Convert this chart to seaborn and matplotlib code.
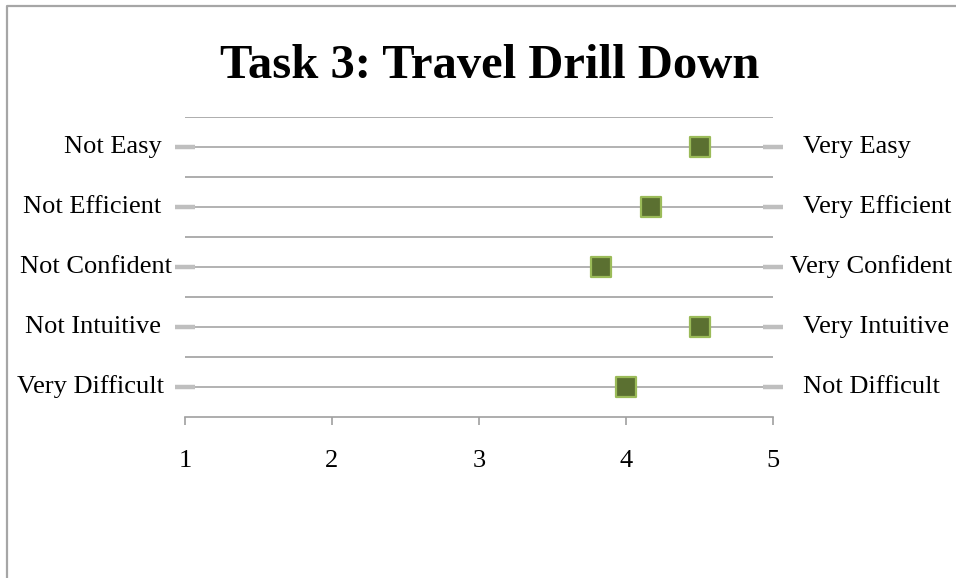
import pandas as pd
import seaborn as sns
import matplotlib.pyplot as plt
from matplotlib.lines import Line2D

title = "Task 3: Travel Drill Down"
low_labels = ["Not Easy", "Not Efficient", "Not Confident", "Not Intuitive", "Very Difficult"]
high_labels = ["Very Easy", "Very Efficient", "Very Confident", "Very Intuitive", "Not Difficult"]
scores = [4.5, 4.17, 3.83, 4.5, 4.0]
scale_min = [1, 1, 1, 1, 1]
scale_max = [5, 5, 5, 5, 5]
ticks = [1, 2, 3, 4, 5]

df = pd.DataFrame({"low": low_labels, "high": high_labels, "score": scores,
                   "lo": scale_min, "hi": scale_max})

sns.set_style("white")
plt.rcParams['font.family'] = ['Liberation Serif', 'DejaVu Serif']
plt.rcParams['text.color'] = 'black'
plt.rcParams['xtick.labelcolor'] = 'black'

fig = plt.figure(figsize=(9.56, 5.78), dpi=100)
ax = fig.add_axes([185 / 956, 1 - 417 / 578, 588 / 956, 300 / 578])

rows = list(range(len(df)))
# row lines between the scale ends
ax.hlines(rows, df.lo, df.hi, color="#a6a6a6", lw=1.2, zorder=2)
# grey end stubs
ax.plot(df.lo, rows, ls="none", marker="_", ms=15, mew=3.2, color="#bfbfbf",
        clip_on=False, zorder=3)
ax.plot(df.hi, rows, ls="none", marker="_", ms=15, mew=3.2, color="#bfbfbf",
        clip_on=False, zorder=3)
# separators
for yy in [r - 0.5 for r in rows]:
    ax.axhline(yy, color="#a0a0a0", lw=1.2, zorder=1)

sns.scatterplot(data=df, x="score", y="low", marker="s", s=200,
                color="#5b7031", edgecolor="#9bbb59", linewidth=1.6,
                zorder=5, ax=ax, clip_on=False)

# the long "Confident" labels sit closer to the stubs, as in the source
left_off = [-17, -17, -9, -17, -15]
right_off = [21.5, 21.5, 12, 21.5, 21.5]
for i, r in df.iterrows():
    ax.annotate(r["low"], (r["lo"], i), xytext=(left_off[i], 0), textcoords="offset points",
                ha="right", va="center", fontsize=19, color="black")
    ax.annotate(r["high"], (r["hi"], i), xytext=(right_off[i], 0), textcoords="offset points",
                ha="left", va="center", fontsize=19, color="black")

ax.set_xlim(1, 5)
ax.set_ylim(len(df) - 0.5, -0.5)
ax.set_yticks([])
ax.set_xticks(ticks)
ax.set_xticklabels([str(t) for t in ticks], fontsize=19)
ax.set_xlabel("")
ax.set_ylabel("")
ax.tick_params(axis="x", direction="out", length=6, width=1.2, color="#a0a0a0",
               pad=18, bottom=True, labelcolor="black")
for s in ["top", "left", "right"]:
    ax.spines[s].set_visible(False)
ax.spines["bottom"].set_color("#a0a0a0")
ax.spines["bottom"].set_linewidth(1.2)

fig.text(490 / 956, 1 - 78 / 578, title, ha="center", va="baseline",
         fontsize=35, fontweight="bold", color="black")

# chart area border (left and top)
fig.add_artist(Line2D([7 / 956, 7 / 956, 1], [0, 1 - 6 / 578, 1 - 6 / 578],
                      color="#a6a6a6", lw=1.6, transform=fig.transFigure))

fig.savefig("out.png", dpi=100)
